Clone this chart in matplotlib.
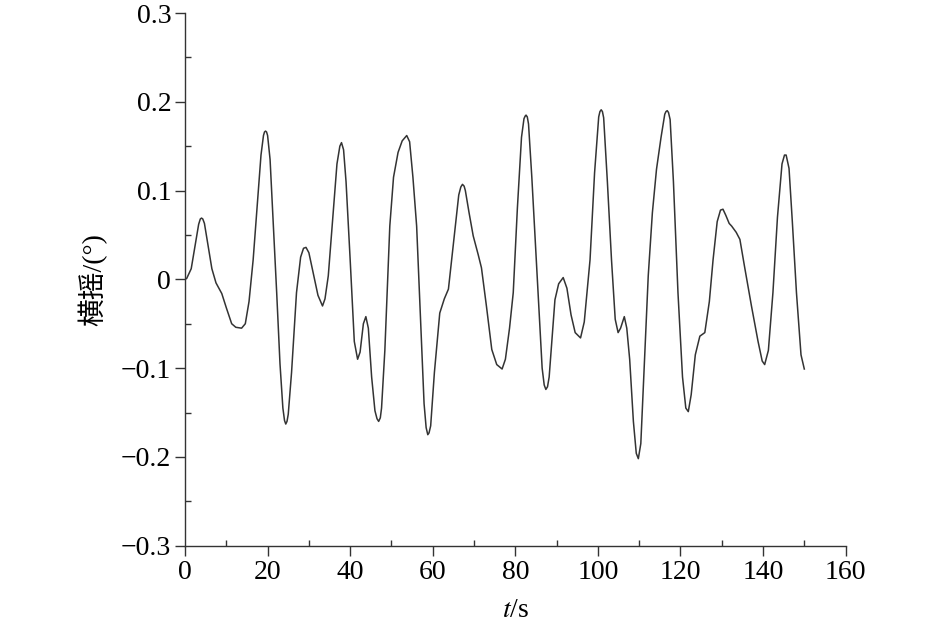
import matplotlib
matplotlib.use("Agg")
import matplotlib.pyplot as plt
from matplotlib.ticker import MultipleLocator

plt.rcParams['font.family'] = ['Liberation Serif', 'Noto Sans CJK SC', 'DejaVu Sans']
plt.rcParams['mathtext.fontset'] = 'stix'

t = [0, 0.4, 1.5, 2.5, 3.3, 3.7, 4.0, 4.3, 4.7, 5.5, 6.5, 7.5, 8.9, 10.0, 11.3, 12.3, 13.7, 14.6, 15.5, 16.5,
     17.5, 18.4, 19.0, 19.25, 19.5, 19.75, 20.0, 20.6, 21.4, 22.2, 23.0, 23.7, 24.1, 24.4, 24.7, 25.0, 25.8, 27.0, 28.0, 28.7,
     29.3, 30.0, 31.0, 32.2, 33.3, 33.9, 34.7, 35.8, 36.8, 37.5, 37.9, 38.4, 39.0, 40.0, 41.0, 41.8,
     42.4, 43.2, 43.8, 44.4, 45.2, 46.0, 46.5, 46.9, 47.3, 47.6, 48.4, 49.6, 50.5, 51.6, 52.6, 53.7, 54.4, 55.2,
     56.1, 57.0, 57.9, 58.4, 58.8, 59.1, 59.5, 60.4, 61.7, 62.8, 63.8, 65.0, 66.3, 66.8, 67.2, 67.6, 67.9, 68.8, 69.8, 71.0,
     71.8, 73.0, 74.3, 75.5, 76.8, 77.6, 78.6, 79.5, 80.5, 81.5, 82.1, 82.4, 82.6, 82.9, 83.2, 84.0, 85.5, 86.5,
     87.0, 87.4, 87.8, 88.2, 89.6, 90.5, 91.6, 92.5, 93.5, 94.5, 95.8, 96.7, 98.1, 99.2, 100.2, 100.5, 100.8, 101.1, 101.4,
     102.3, 103.3, 104.2, 104.9, 105.5, 106.4, 107.0, 107.7, 108.6, 109.3, 109.8, 110.4, 111.2,
     112.2, 113.2, 114.2, 115.3, 116.2, 116.5, 116.8, 117.1, 117.5, 118.3, 119.4, 120.5, 121.3, 121.9, 122.6,
     123.6, 124.7, 125.9, 127.0, 127.9, 128.9, 129.7, 130.3, 131.0, 131.8, 132.4, 133.5, 134.4,
     135.5, 137.2, 138.8, 139.8, 140.4, 141.3, 142.4, 143.5, 144.6, 145.2, 145.6, 146.3, 147.1,
     148.1, 149.2, 150.0]

roll = [0.0, 0.001, 0.012, 0.04, 0.062, 0.068, 0.069, 0.068, 0.063, 0.04, 0.012, -0.004, -0.016, -0.032, -0.050,
        -0.054, -0.055, -0.050, -0.025, 0.022, 0.085, 0.14, 0.162, 0.166, 0.167, 0.166, 0.162, 0.135, 0.06, -0.015,
        -0.095, -0.145, -0.159, -0.163, -0.160, -0.152, -0.105, -0.015, 0.025, 0.035, 0.036, 0.030, 0.008, -0.018,
        -0.030, -0.022, 0.004, 0.07, 0.13, 0.150, 0.154, 0.146, 0.11, 0.022, -0.07, -0.090, -0.082,
        -0.050, -0.042, -0.055, -0.11, -0.148, -0.157, -0.160, -0.156, -0.145, -0.08, 0.060, 0.115, 0.143, 0.156,
        0.162, 0.155, 0.115, 0.060, -0.04, -0.14, -0.167, -0.175, -0.173, -0.165, -0.105, -0.038, -0.022, -0.011,
        0.040, 0.095, 0.104, 0.107, 0.105, 0.100, 0.075, 0.049, 0.028, 0.013, -0.030, -0.079, -0.096, -0.101,
        -0.090, -0.055, -0.015, 0.080, 0.160, 0.181, 0.184, 0.185, 0.183, 0.175, 0.115, -0.015, -0.10,
        -0.119, -0.124, -0.121, -0.110, -0.023, -0.005, 0.002, -0.01, -0.040, -0.060, -0.066, -0.048, 0.022, 0.12, 0.183,
        0.189, 0.191, 0.189, 0.182, 0.11, 0.022, -0.045, -0.060, -0.055, -0.042, -0.055, -0.090, -0.16, -0.196,
        -0.202, -0.185, -0.10, 0.004, 0.075, 0.124, 0.160, 0.186, 0.189, 0.190, 0.188, 0.180, 0.110, -0.015, -0.11,
        -0.145, -0.149, -0.130, -0.085, -0.064, -0.060, -0.025, 0.022, 0.065, 0.078, 0.079, 0.072,
        0.063, 0.060, 0.053, 0.045, 0.015, -0.030, -0.070, -0.092, -0.096, -0.080, -0.015, 0.070,
        0.130, 0.140, 0.140, 0.125, 0.065, -0.015, -0.085, -0.101]

xticks = [0, 20, 40, 60, 80, 100, 120, 140, 160]
yticks = [-0.3, -0.2, -0.1, 0, 0.1, 0.2, 0.3]
ytick_labels = ['−0.3', '−0.2', '−0.1', '0', '0.1', '0.2', '0.3']

fig = plt.figure(figsize=(9.45, 6.32), dpi=100)
ax = fig.add_axes([0.1958, 0.1366, 0.699, 0.8428])

ax.plot(t, roll, color='#333333', lw=1.1, solid_joinstyle='round')

ax.set_xlim(0, 160)
ax.set_ylim(-0.3, 0.3)
ax.set_xticks(xticks)
ax.set_xticklabels([str(v) for v in xticks])
ax.set_yticks(yticks)
ax.set_yticklabels(ytick_labels)
ax.xaxis.set_minor_locator(MultipleLocator(10))
ax.yaxis.set_minor_locator(MultipleLocator(0.05))

for side in ['top', 'right']:
    ax.spines[side].set_visible(False)
for side in ['left', 'bottom']:
    ax.spines[side].set_color('#333333')
    ax.spines[side].set_linewidth(1.0)

ax.tick_params(which='major', direction='out', length=7, width=1.0, color='#333333',
               labelsize=20, pad=3)
ax.tick_params(which='minor', direction='in', length=4, width=1.0, color='#333333')

ax.set_xlabel('$t$/s', fontsize=20, labelpad=10)
ax.set_ylabel('横摇/(°)', fontsize=20, labelpad=10)

fig.savefig('out.png', dpi=100, facecolor='white')
